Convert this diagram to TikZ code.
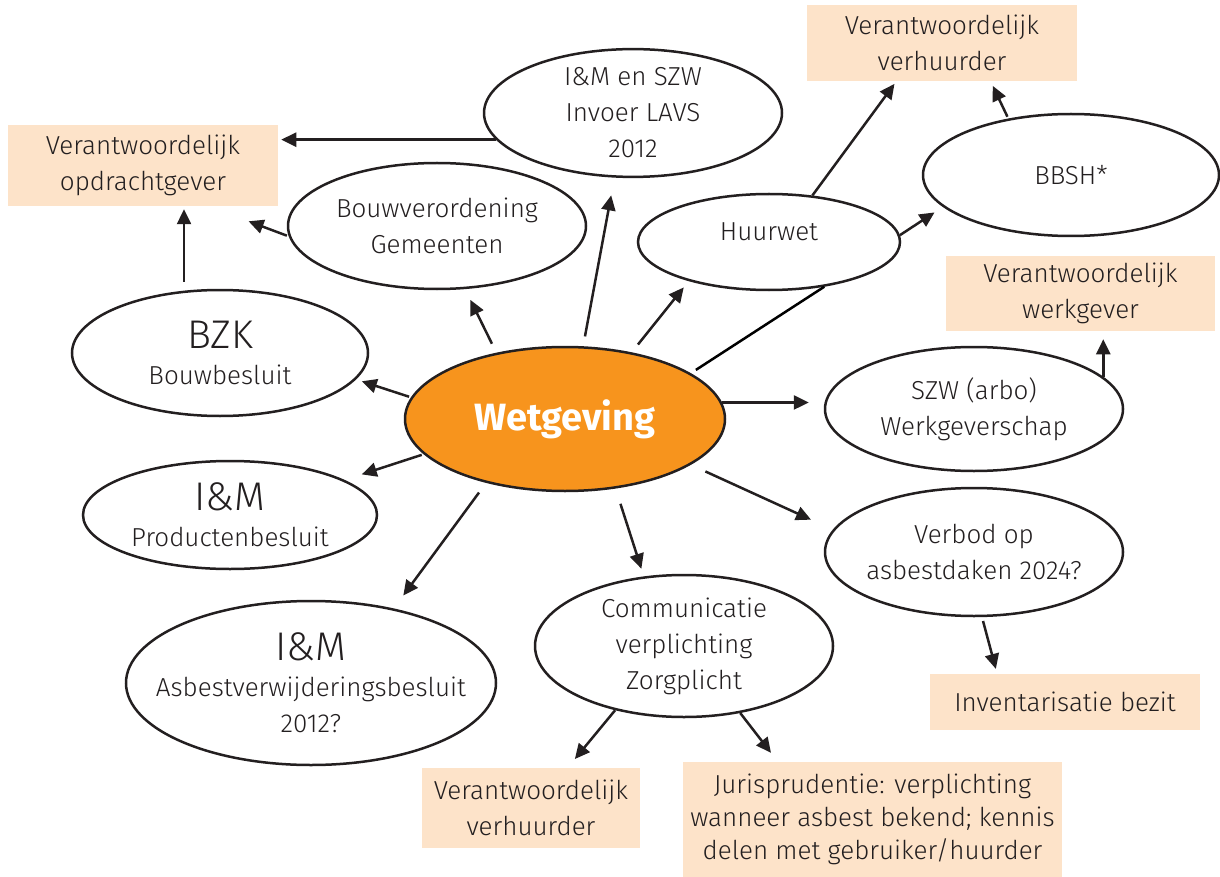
\documentclass[tikz,border=0pt]{standalone}
\usepackage{fontspec}
\setmainfont{Fira Sans}[UprightFont=* Light, BoldFont=* Bold]
\usetikzlibrary{shapes.geometric, arrows.meta, calc}
\definecolor{wetorange}{HTML}{F7941D}
\definecolor{peach}{HTML}{FDE3C9}
\definecolor{ink}{HTML}{231F20}
\newcommand{\bigline}[1]{{\fontsize{20}{20}\selectfont #1}}

\begin{document}
\begin{tikzpicture}[
    x=0.5pt, y=-0.5pt,
    line width=1.25pt,
    font=\fontsize{13}{18}\selectfont,
    law/.style={ellipse, draw=ink, fill=white, inner sep=0pt, align=center, text=ink},
    duty/.style={rectangle, fill=peach, inner sep=0pt, align=center, text=ink},
    arr/.style={-{Triangle[length=7.5pt,width=7pt]}, draw=ink}
]
    \useasboundingbox (0,0) rectangle (1220,877);

    % Centre
    \node[law, fill=wetorange, text=white, font=\bfseries\fontsize{19}{22}\selectfont,
          minimum width=160pt, minimum height=72pt] (wet) at (565,419) {Wetgeving};

    % Laws around the centre
    \node[law, minimum width=148pt, minimum height=63pt] (bzk) at (220,353) {\bigline{BZK}\\Bouwbesluit};
    \node[law, minimum width=147pt, minimum height=54pt] (imp) at (230,515) {\bigline{I\&M}\\Productenbesluit};
    \node[law, inner xsep=-21pt, minimum width=185pt, minimum height=82pt] (asb) at (311,683) {\bigline{I\&M}\\Asbestverwijderingsbesluit\\2012?};
    \node[law, minimum width=149pt, minimum height=71pt] (comm) at (684,646) {Communicatie\\verplichting\\Zorgplicht};
    \node[law, inner xsep=-6pt, minimum width=149pt, minimum height=64pt] (verb) at (974,552) {Verbod op\\asbestdaken 2024?};
    \node[law, minimum width=149pt, minimum height=62pt] (szw) at (974,409) {SZW (arbo)\\Werkgeverschap};
    \node[law, minimum width=148pt, minimum height=61pt] (bbsh) at (1071,175) {BBSH*};
    \node[law, text height=9pt, text depth=10pt, minimum width=131pt, minimum height=48pt] (huur) at (769,242) {Huurwet};
    \node[law, minimum width=149pt, minimum height=63pt] (imszw) at (633,113) {I\&M en SZW\\Invoer LAVS\\2012};
    \node[law, minimum width=149pt, minimum height=63pt] (bouwv) at (437,226) {Bouwverordening\\Gemeenten};

    % Responsibilities
    \node[duty, minimum width=135pt, minimum height=40.5pt] (opdr) at (143,165.5) {Verantwoordelijk\\opdrachtgever};
    \node[duty, minimum width=135pt, minimum height=38pt] (verh) at (942,43) {Verantwoordelijk\\verhuurder};
    \node[duty, minimum width=134.5pt, minimum height=37.5pt] (werk) at (1080.5,293.5) {Verantwoordelijk\\werkgever};
    \node[duty, minimum width=135pt, minimum height=28pt] (inv) at (1065,702) {Inventarisatie bezit};
    \node[duty, minimum width=109pt, minimum height=40pt] (vhb) at (531,808) {Verantwoordelijk\\verhuurder};
    \node[duty, minimum width=189.5pt, minimum height=57.5pt, font=\fontsize{13}{16.5}\selectfont] (jur) at (872.5,819.5)
        {Jurisprudentie: verplichting\\wanneer asbest bekend; kennis\\delen met gebruiker/huurder};

    % From the centre
    \draw[arr, shorten <=1pt, shorten >=3pt] (wet.172) -- (bzk.-11);
    \draw[arr, shorten <=1pt, shorten >=9pt] (wet.-166) -- (imp.17);
    \draw[arr, shorten <=6pt, shorten >=8pt] (wet.219) -- (asb.42);
    \draw[arr, shorten <=8pt, shorten >=4pt] (wet.-54) -- (comm.120);
    \draw[arr, shorten <=8pt, shorten >=12pt] (wet.-20) -- (verb.171);
    \draw[arr, shorten >=7.5pt] (wet.6) -- (wet.6 -| szw.west);
    \draw[shorten <=3pt] (wet.20) -- (huur.-39);
    \draw[arr, shorten <=5pt, shorten >=4pt] (wet.45) -- (huur.206);
    \draw[arr, shorten <=5pt, shorten >=9pt] (wet.76) -- (imszw.-106);
    \draw[arr, shorten <=5pt, shorten >=6pt] (wet.136) -- (bouwv.-66);

    % To the responsibilities
    \draw[arr, shorten <=1pt, shorten >=20pt] (bouwv.184) -- ($(opdr.south)!.5!(opdr.south east)$);
    \draw[arr, shorten >=1pt] (imszw.191) -- (imszw.191 -| opdr.east);
    \draw[arr, shorten <=4.5pt, shorten >=1pt] (bzk.120) -- (bzk.120 |- opdr.south);
    \draw[arr, shorten >=1pt] (huur.47) -- ($(verh.south west)!.33!(verh.south east)$);
    \draw[arr, shorten <=1pt, shorten >=2pt] (bbsh.138) -- ($(verh.south west)!.68!(verh.south east)$);
    \draw[arr, shorten >=5pt] (huur.3) -- (bbsh.194);
    \draw[arr, shorten >=3.5pt] (szw.14) -- (szw.14 |- werk.south);
    \draw[arr, shorten <=2pt, shorten >=2pt] (verb.-83) -- ($(inv.north west)!.25!(inv.north east)$);
    \draw[arr, shorten >=5pt] (comm.-137) -- ($(vhb.north west)!.67!(vhb.north east)$);
    \draw[arr, shorten >=5pt] (comm.-50) -- ($(jur.north west)!.25!(jur.north east)$);
\end{tikzpicture}
\end{document}
